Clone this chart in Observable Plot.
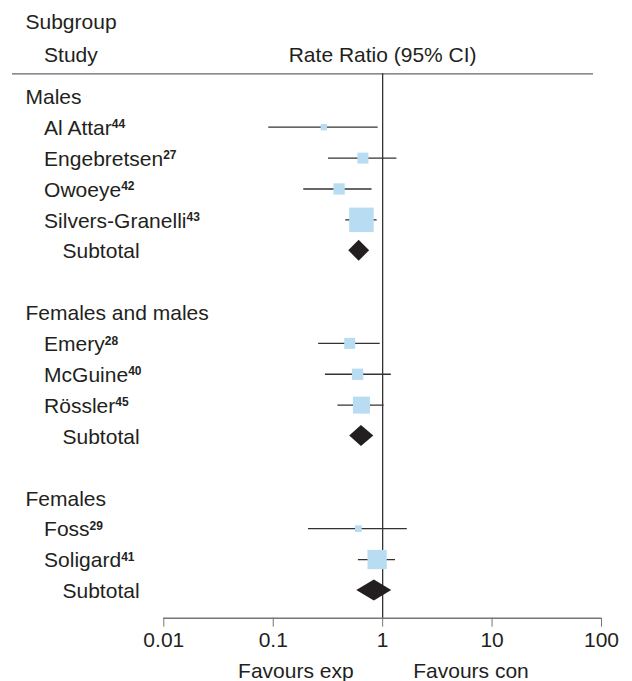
<!DOCTYPE html>
<html>
<head>
<meta charset="utf-8">
<script src="https://cdn.jsdelivr.net/npm/d3@7"></script>
<script src="https://cdn.jsdelivr.net/npm/@observablehq/plot@0.6"></script>
<style>
  html, body { margin: 0; padding: 0; background: #fff; }
  svg { display: block; }
</style>
</head>
<body>
<div id="chart"></div>
<script>
// ---- data ----
const groups = ["Males", "Females and males", "Females"];
const studies = ["Al Attar", "Engebretsen", "Owoeye", "Silvers-Granelli", "Emery", "McGuine", "Rössler", "Foss", "Soligard"];
const studyRefs = ["44", "27", "42", "43", "28", "40", "45", "29", "41"];
const studyGroup = [0, 0, 0, 0, 1, 1, 1, 2, 2];
const studyRR = [0.29, 0.66, 0.40, 0.64, 0.50, 0.59, 0.64, 0.60, 0.89];
const studyLo = [0.091, 0.32, 0.19, 0.46, 0.26, 0.30, 0.39, 0.21, 0.60];
const studyHi = [0.91, 1.35, 0.80, 0.89, 0.95, 1.20, 1.03, 1.68, 1.31];
const studyWeight = [4.0, 12.1, 12.8, 60, 12.1, 12.8, 28.9, 4.5, 37.2];
const subtotalLabel = "Subtotal";
const subtotalRR = [0.61, 0.64, 0.84];
const subtotalLo = [0.49, 0.50, 0.58];
const subtotalHi = [0.76, 0.83, 1.21];
const tickValues = [0.01, 0.1, 1, 10, 100];
const tickLabels = ["0.01", "0.1", "1", "10", "100"];
const headerLeft = ["Subgroup", "Study"];
const headerMid = "Rate Ratio (95% CI)";
const favourLabels = ["Favours exp", "Favours con"];

// ---- build row table ----
const groupRows = [], studyRows = [], subtotalRows = [];
let row = 0;
groups.forEach((g, gi) => {
  groupRows.push({label: g, row: row++});
  studies.forEach((s, si) => {
    if (studyGroup[si] === gi) studyRows.push({label: s, ref: studyRefs[si], rr: studyRR[si], lo: studyLo[si], hi: studyHi[si], w: studyWeight[si], row: row++});
  });
  subtotalRows.push({label: subtotalLabel, rr: subtotalRR[gi], lo: subtotalLo[gi], hi: subtotalHi[gi], row: row++});
  row++; // blank line
});
const lastRow = row - 2;

// diamond outlines
const dh = 0.34;
const diamonds = subtotalRows.flatMap((d, i) => [
  {z: i, y: d.row - dh, x1: d.rr, x2: d.rr},
  {z: i, y: d.row, x1: d.lo, x2: d.hi},
  {z: i, y: d.row + dh, x1: d.rr, x2: d.rr}
]);

const tickLabelOf = new Map(tickValues.map((v, i) => [v, tickLabels[i]]));
const yDomain = [-0.73, lastRow + 0.9];
const ink = "#231f20";
const fs = 21;
const txt = {fill: ink, fontSize: fs, lineAnchor: "middle"};

const plot = Plot.plot({
  width: 632,
  height: 681,
  marginLeft: 163.3,
  marginRight: 31,
  marginTop: 73.3,
  marginBottom: 63.3,
  style: {fontFamily: "'Liberation Sans', Arial, sans-serif", fontSize: fs + "px", color: ink, background: "#fff"},
  x: {type: "log", domain: [0.01, 100]},
  y: {domain: yDomain, reverse: true, axis: null},
  r: {type: "sqrt", domain: [0, 60], range: [0, 24.5 / Math.sqrt(Math.PI)]},
  marks: [
    // header line
    Plot.ruleY([yDomain[0]], {stroke: "#666", strokeWidth: 1.3, insetLeft: -151.3, insetRight: 8}),
    // axis line
    Plot.ruleY([yDomain[1]], {stroke: "#777", strokeWidth: 1.5}),
    // line of no effect
    Plot.ruleX([1], {stroke: "#333", strokeWidth: 1.3}),
    Plot.axisX(tickValues, {anchor: "bottom", tickFormat: d => tickLabelOf.get(d), tickSize: 9, tickPadding: 5, stroke: "#777", fill: ink, fontSize: fs, label: null}),
    // confidence intervals
    Plot.ruleY(studyRows, {y: "row", x1: "lo", x2: "hi", stroke: "#333", strokeWidth: 1.3}),
    // weight squares
    Plot.dot(studyRows, {x: "rr", y: "row", r: "w", symbol: "square", fill: "#b8dcf1", stroke: "none"}),
    // subtotal diamonds
    Plot.areaX(diamonds, {y: "y", x1: "x1", x2: "x2", z: "z", fill: ink, curve: "linear"}),
    // header texts
    Plot.text([headerLeft[0]], {...txt, text: d => d, frameAnchor: "top-left", textAnchor: "start", dx: -138.3, dy: -51.7}),
    Plot.text([headerLeft[1]], {...txt, text: d => d, frameAnchor: "top-left", textAnchor: "start", dx: -119.7, dy: -18.3}),
    Plot.text([1], {...txt, x: d => d, text: () => headerMid, frameAnchor: "top", textAnchor: "middle", dy: -18.3}),
    // row labels
    Plot.text(groupRows, {...txt, y: "row", text: "label", frameAnchor: "left", textAnchor: "start", dx: -138.3, dy: 1}),
    Plot.text(studyRows, {...txt, y: "row", text: "label", frameAnchor: "left", textAnchor: "start", dx: -119.7, dy: 1}),
    Plot.text(subtotalRows, {...txt, y: "row", text: "label", frameAnchor: "left", textAnchor: "start", dx: -101.3, dy: 1}),
    // favours labels
    Plot.text([1], {...txt, x: d => d, text: () => favourLabels[0], frameAnchor: "bottom", textAnchor: "end", dx: -29, dy: 53.3}),
    Plot.text([1], {...txt, x: d => d, text: () => favourLabels[1], frameAnchor: "bottom", textAnchor: "start", dx: 30.6, dy: 53.3})
  ]
});

// superscript reference numbers
const refByName = new Map(studyRows.map(d => [d.label, d.ref]));
d3.select(plot).selectAll("text").each(function() {
  const t = this.textContent;
  if (this.childElementCount === 0 && refByName.has(t)) {
    d3.select(this).append("tspan")
      .attr("font-size", 12)
      .attr("font-weight", "bold")
      .attr("dy", -6.5)
      .text(refByName.get(t));
  }
});

document.getElementById("chart").append(plot);
</script>
</body>
</html>
